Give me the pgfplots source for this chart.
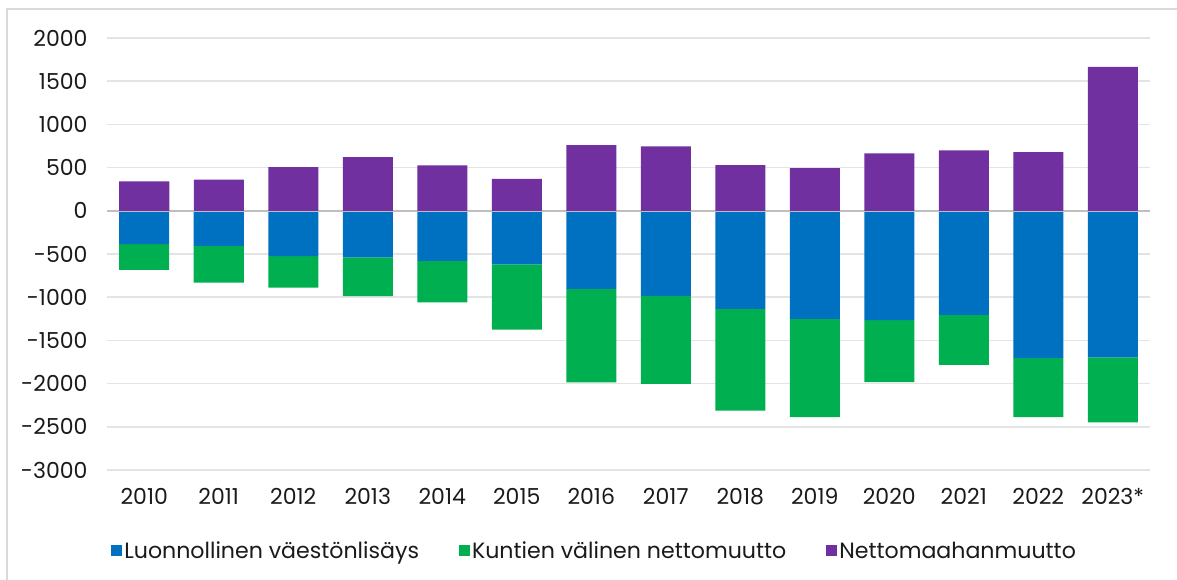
\documentclass[border=0pt]{standalone}
\usepackage{fontspec}
\setmainfont{Poppins}
\usepackage{pgfplots}
\pgfplotsset{compat=1.18}
\definecolor{cblue}{HTML}{0070C0}
\definecolor{cgreen}{HTML}{00B050}
\definecolor{cpurple}{HTML}{7030A0}
\definecolor{gridc}{HTML}{E4E4E4}
\definecolor{zeroc}{HTML}{BFBFBF}
\definecolor{framec}{HTML}{D9D9D9}
\definecolor{txt}{HTML}{1A1A1A}
\pgfplotsset{common/.style={
  scale only axis, width=1043pt, height=432pt,
  xmin=-0.5, xmax=13.5, ymin=-3000, ymax=2000,
  ybar stacked, bar width=50pt,
}}
\begin{document}
\begin{tikzpicture}[font=\fontsize{22}{26}\selectfont, text=txt]
\begin{axis}[common,
  axis line style={draw=none}, tick style={draw=none},
  ymajorgrids, grid style={gridc, line width=1.5pt},
  ytick={-3000,-2500,...,2000},
  yticklabels={-3000,-2500,-2000,-1500,-1000,-500,0,500,1000,1500,2000},
  xtick={0,...,13},
  xticklabels={2010,2011,2012,2013,2014,2015,2016,2017,2018,2019,2020,2021,2022,2023*},
  yticklabel style={xshift=-16pt},
  xticklabel style={yshift=-15pt},
  legend columns=3,
  legend style={draw=none, fill=none, font=\fontsize{22.1}{26}\selectfont, at={(axis description cs:0.004,-0.187)}, anchor=west, inner sep=0pt,
    /tikz/every even column/.append style={column sep=38pt}},
  legend image code/.code={\path[#1, draw=none] (0pt,-5.5pt) rectangle (11pt,5.5pt);},
]
\addplot[fill=cblue, draw=none] coordinates {(0,-385) (1,-405) (2,-525) (3,-540) (4,-580) (5,-620) (6,-905) (7,-985) (8,-1135) (9,-1250) (10,-1265) (11,-1205) (12,-1705) (13,-1695)};
\addplot[fill=cgreen, draw=none] coordinates {(0,-300) (1,-425) (2,-365) (3,-447) (4,-480) (5,-754) (6,-1082) (7,-1017) (8,-1177) (9,-1138) (10,-718) (11,-579) (12,-683) (13,-753)};
\addlegendimage{fill=cpurple, draw=none}
\legend{Luonnollinen väestönlisäys, Kuntien välinen nettomuutto, Nettomaahanmuutto}
\end{axis}
\begin{axis}[common, hide axis]
\addplot[fill=cpurple, draw=none] coordinates {(0,340) (1,360) (2,505) (3,620) (4,525) (5,370) (6,760) (7,745) (8,530) (9,495) (10,665) (11,700) (12,680) (13,1665)};
\draw[zeroc, line width=2pt] (axis cs:-0.5,0) -- (axis cs:13.5,0);
\end{axis}
\draw[framec, line width=1.5pt] (-100pt,-120pt) -- (-100pt,461pt) -- (1080pt,461pt);
\pgfresetboundingbox
\useasboundingbox (-107pt,-109pt) rectangle (1070pt,470pt);
\end{tikzpicture}
\end{document}
